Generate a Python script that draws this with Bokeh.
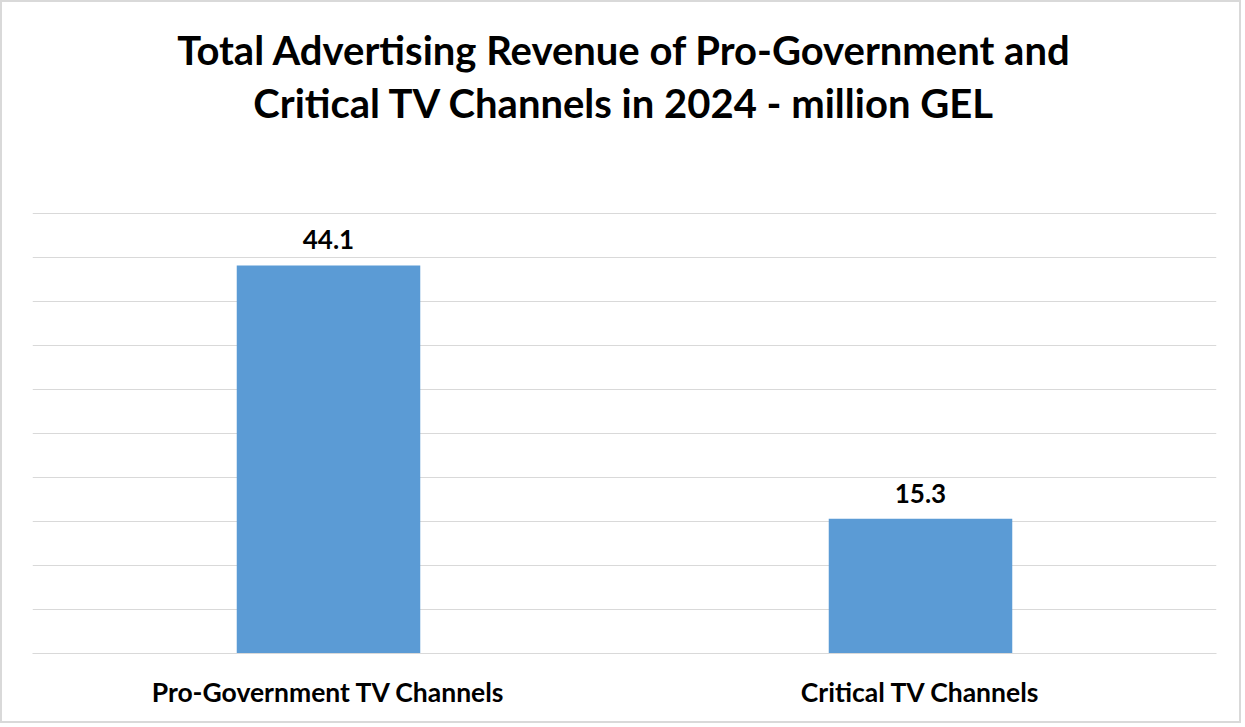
from bokeh.plotting import figure
from bokeh.models import ColumnDataSource, FixedTicker, Label, LabelSet
from bokeh.core.properties import value
from bokeh.embed import file_html
from bokeh.resources import INLINE

categories = ["Pro-Government TV Channels", "Critical TV Channels"]
revenue = [44.1, 15.3]
value_labels = ["44.1", "15.3"]
title_lines = ["Total Advertising Revenue of Pro-Government and",
               "Critical TV Channels in 2024 - million GEL"]
grid_ticks = [0, 5, 10, 15, 20, 25, 30, 35, 40, 45, 50]

FONT = "Lato"
GRID = "#d9d9d9"

src = ColumnDataSource(dict(cat=categories, val=revenue, lab=value_labels))

# frame spans from near the top so the title can sit inside it; scale: 8.8 px per unit
y_top = 50 + (213 - 20) / 8.8

p = figure(x_range=categories, y_range=(0, y_top), width=1241, height=723,
           output_backend="svg", toolbar_location=None, y_axis_location=None,
           min_border_left=30, min_border_right=27, min_border_top=18,
           min_border_bottom=72)
p.styles = {"border": "2px solid #d9d9d9"}
p.outline_line_color = None
p.background_fill_color = "white"
p.border_fill_color = "white"

p.vbar(x="cat", top="val", width=0.31, source=src, fill_color="#5b9bd5",
       line_color=None)

p.xgrid.grid_line_color = None
p.ygrid.ticker = FixedTicker(ticks=grid_ticks)
p.ygrid.grid_line_color = GRID
p.ygrid.grid_line_width = 1

ax = p.xaxis[0]
ax.axis_line_color = GRID
ax.major_tick_line_color = None
ax.minor_tick_line_color = None
ax.major_label_text_font = FONT
ax.major_label_text_font_style = "bold"
ax.major_label_text_font_size = "26.5px"
ax.major_label_text_color = "black"
ax.major_label_standoff = 16

p.add_layout(LabelSet(x="cat", y="val", text="lab", source=src,
                      text_align="center", text_baseline="bottom", y_offset=16,
                      text_font=value(FONT), text_font_style="bold",
                      text_font_size="26px", text_color="black"))

for i, t in enumerate(title_lines):
    p.add_layout(Label(x=592, y=604 - 53 * i, x_units="screen", y_units="screen",
                       text=t, text_align="center", text_baseline="middle",
                       text_font=FONT, text_font_style="bold",
                       text_font_size="40px", text_color="black"))

open("out.html", "w").write(file_html(p, INLINE))
